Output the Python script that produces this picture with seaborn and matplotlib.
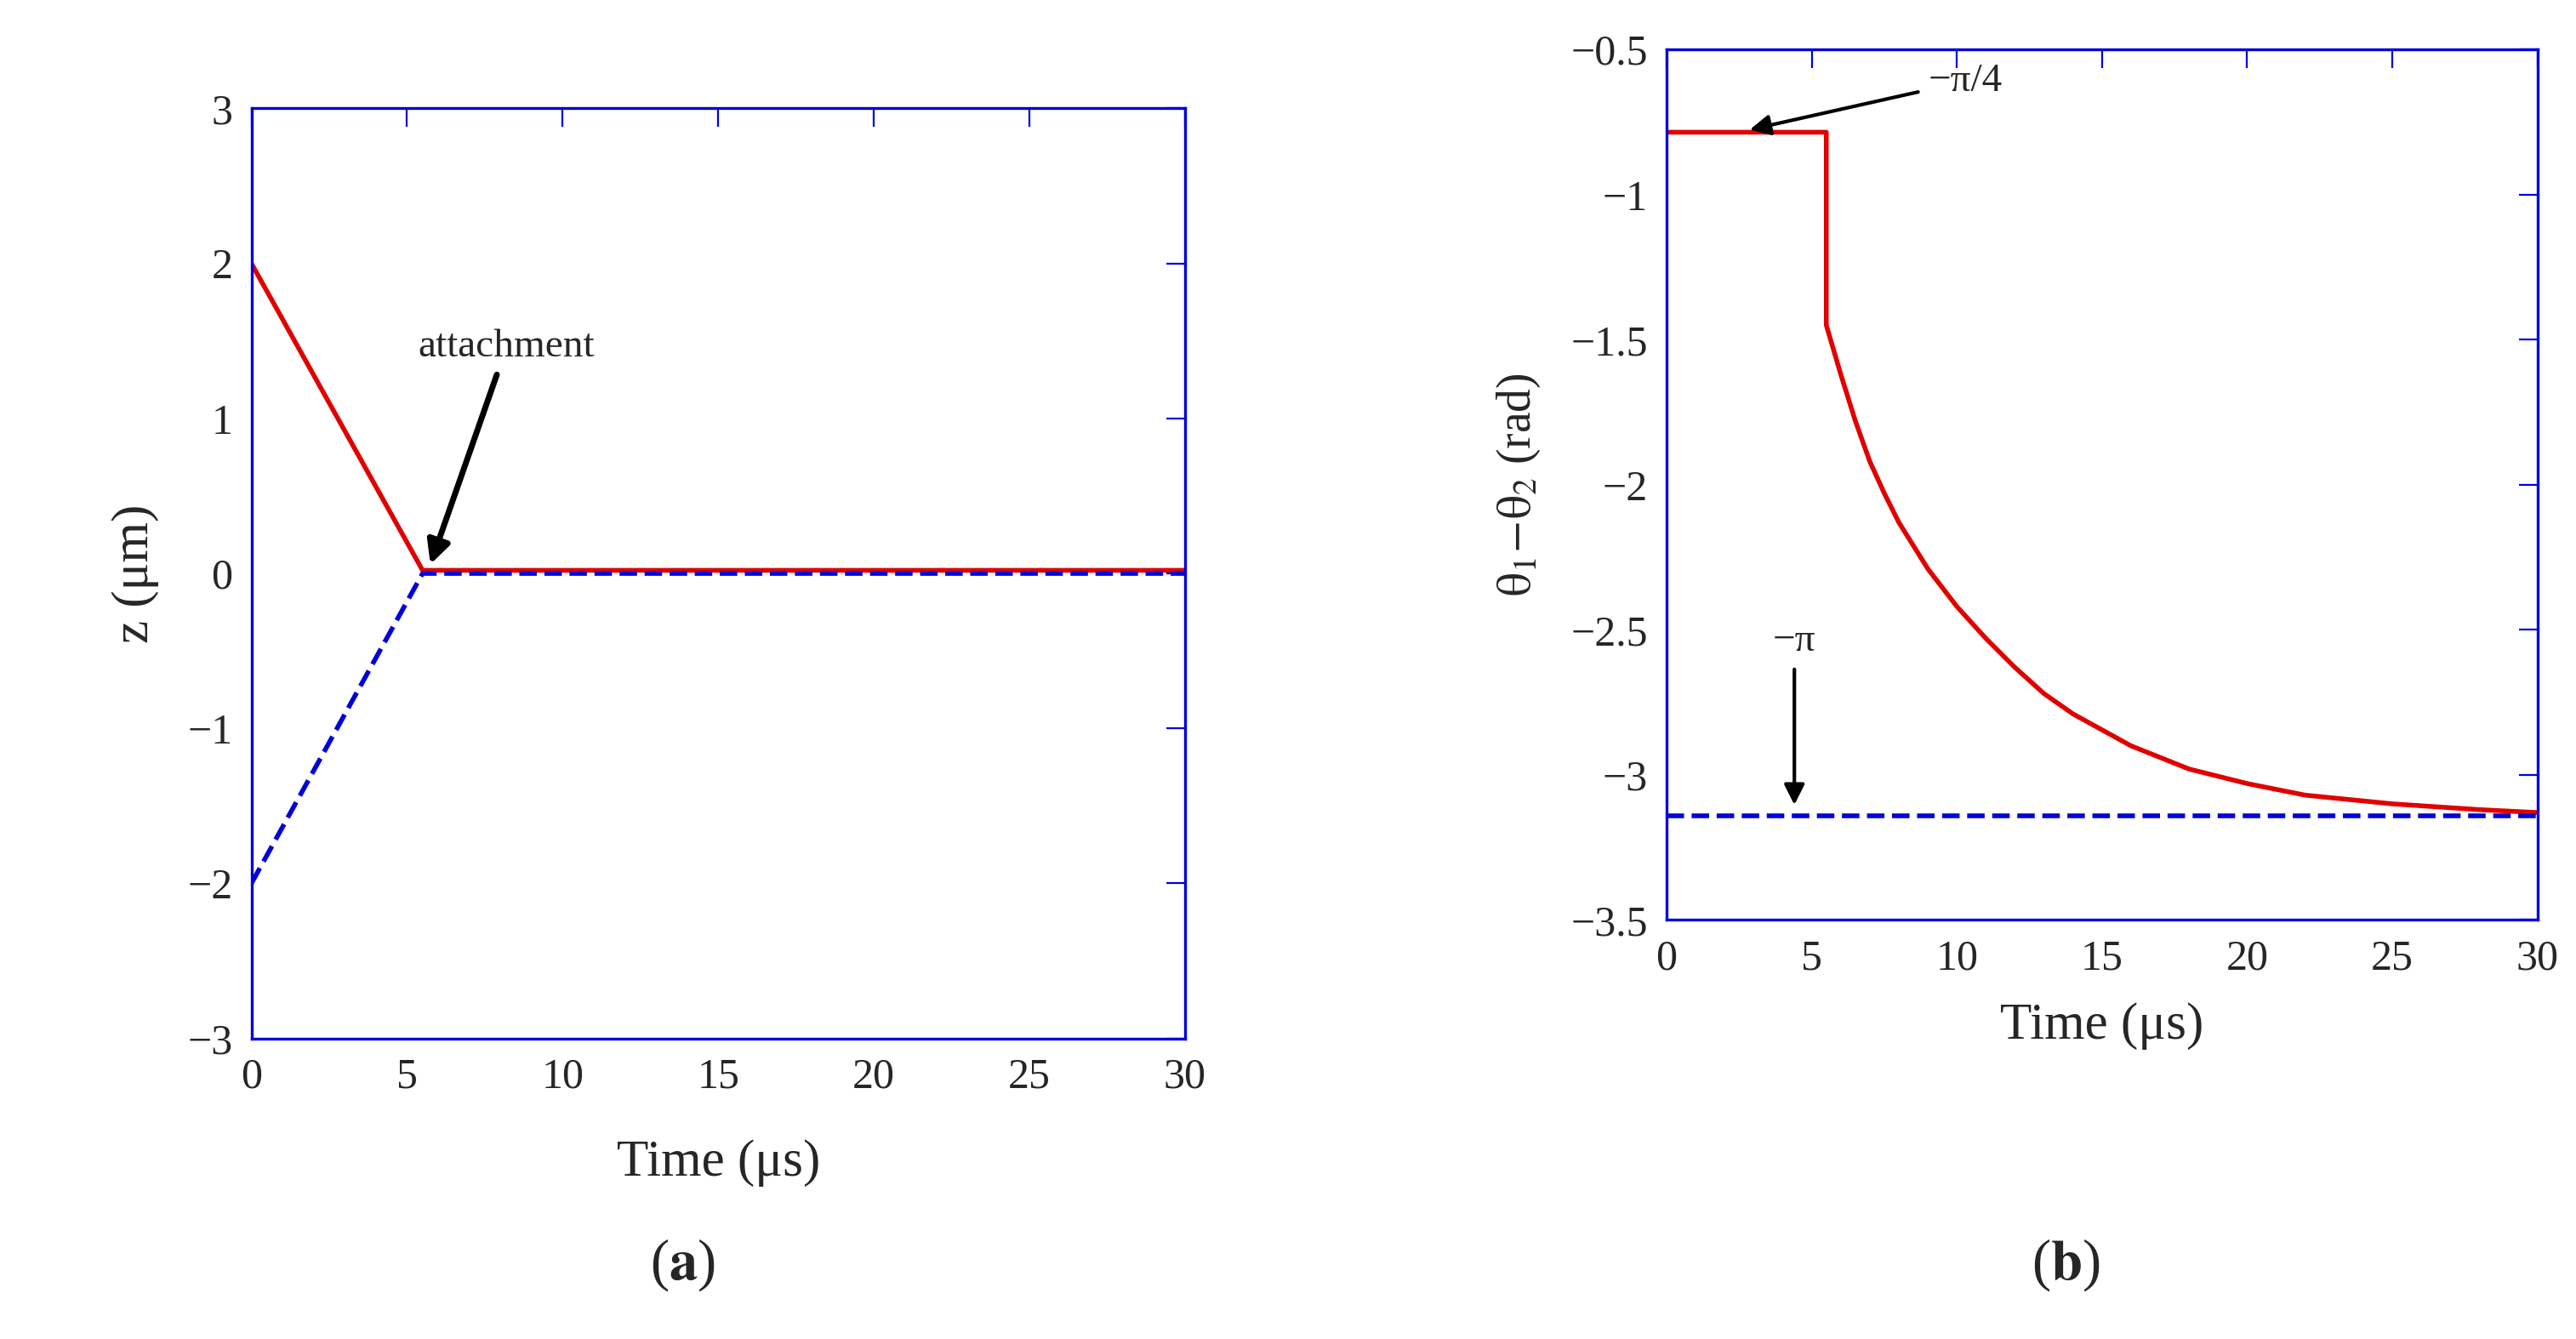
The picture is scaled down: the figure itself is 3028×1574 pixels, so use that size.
import numpy as np
import pandas as pd
import seaborn as sns
import matplotlib.pyplot as plt

# panel (a): z position of the two particles
t_a = [0, 5.5, 30]
z_red = [2.0, 0.02, 0.02]
z_blue = [-2.0, 0.0, 0.0]

# panel (b): phase difference
t_b = [0, 5.5, 5.5, 6, 6.5, 7, 7.5, 8, 9, 10, 11, 12, 13, 14, 16, 18, 20, 22, 25, 28, 30]
phase = [-0.785, -0.785, -1.45, -1.62, -1.78, -1.92, -2.03, -2.13, -2.29, -2.42, -2.53,
         -2.63, -2.72, -2.79, -2.9, -2.98, -3.03, -3.07, -3.1, -3.12, -3.13]
t_pi = [0, 30]
phase_pi = [-np.pi, -np.pi]

sns.set_style('white')
plt.rcParams['font.family'] = ['Liberation Serif', 'DejaVu Serif']
plt.rcParams['mathtext.fontset'] = 'stix'
plt.rcParams['font.size'] = 16

fig = plt.figure(figsize=(15.14, 7.87), dpi=200)
ax1 = fig.add_axes([0.0976, 0.2245, 0.3624, 0.6945])
ax2 = fig.add_axes([0.647, 0.313, 0.338, 0.65])

sns.lineplot(x=t_a, y=z_red, ax=ax1, color='#e00000', lw=2)
sns.lineplot(x=t_a, y=z_blue, ax=ax1, color='#0000dd', lw=2, linestyle='--')
ax1.set_xlim(0, 30)
ax1.set_ylim(-3, 3)
ax1.set_xticks(range(0, 31, 5))
ax1.set_yticks(range(-3, 4))
ax1.set_yticklabels(['\u22123', '\u22122', '\u22121', '0', '1', '2', '3'])
ax1.set_xlabel('Time (\u03bcs)', fontsize=22, labelpad=18)
ax1.set_ylabel('z (\u03bcm)', fontsize=22, labelpad=12)
ax1.annotate('attachment', xy=(5.7, 0.03), xytext=(8.2, 1.4), ha='center', fontsize=17,
             arrowprops=dict(arrowstyle='-|>', color='black', lw=2.5, mutation_scale=20))

sns.lineplot(x=t_b, y=phase, ax=ax2, color='#e00000', lw=2, sort=False, estimator=None)
sns.lineplot(x=t_pi, y=phase_pi, ax=ax2, color='#0000dd', lw=2, linestyle='--')
ax2.set_xlim(0, 30)
ax2.set_ylim(-3.5, -0.5)
ax2.set_xticks(range(0, 31, 5))
ax2.set_yticks(np.arange(-3.5, -0.4, 0.5))
ax2.set_yticklabels(['\u22123.5', '\u22123', '\u22122.5', '\u22122', '\u22121.5', '\u22121', '\u22120.5'])
ax2.set_xlabel('Time (\u03bcs)', fontsize=22, labelpad=10)
ax2.set_ylabel(r'$\mathrm{\theta_1\!-\!\theta_2}$ (rad)', fontsize=20, labelpad=12)
ax2.annotate('\u2212\u03c0/4', xy=(2.7, -0.78), xytext=(9.0, -0.61), va='center', fontsize=17,
             arrowprops=dict(arrowstyle='-|>', color='black', lw=1.5, mutation_scale=18))
ax2.annotate('\u2212\u03c0', xy=(4.4, -3.12), xytext=(4.4, -2.54), ha='center', va='center', fontsize=17,
             arrowprops=dict(arrowstyle='-|>', color='black', lw=1.5, mutation_scale=18))

for ax in (ax1, ax2):
    for s in ax.spines.values():
        s.set_color('#0000dd')
        s.set_linewidth(1.2)
    ax.tick_params(direction='in', top=True, right=True, length=8, color='#0000dd',
                   labelsize=18, pad=8)

fig.text(0.265, 0.045, r'($\mathbf{a}$)', ha='center', fontsize=24)
fig.text(0.802, 0.045, r'($\mathbf{b}$)', ha='center', fontsize=24)

fig.savefig('out.png', dpi=200)
